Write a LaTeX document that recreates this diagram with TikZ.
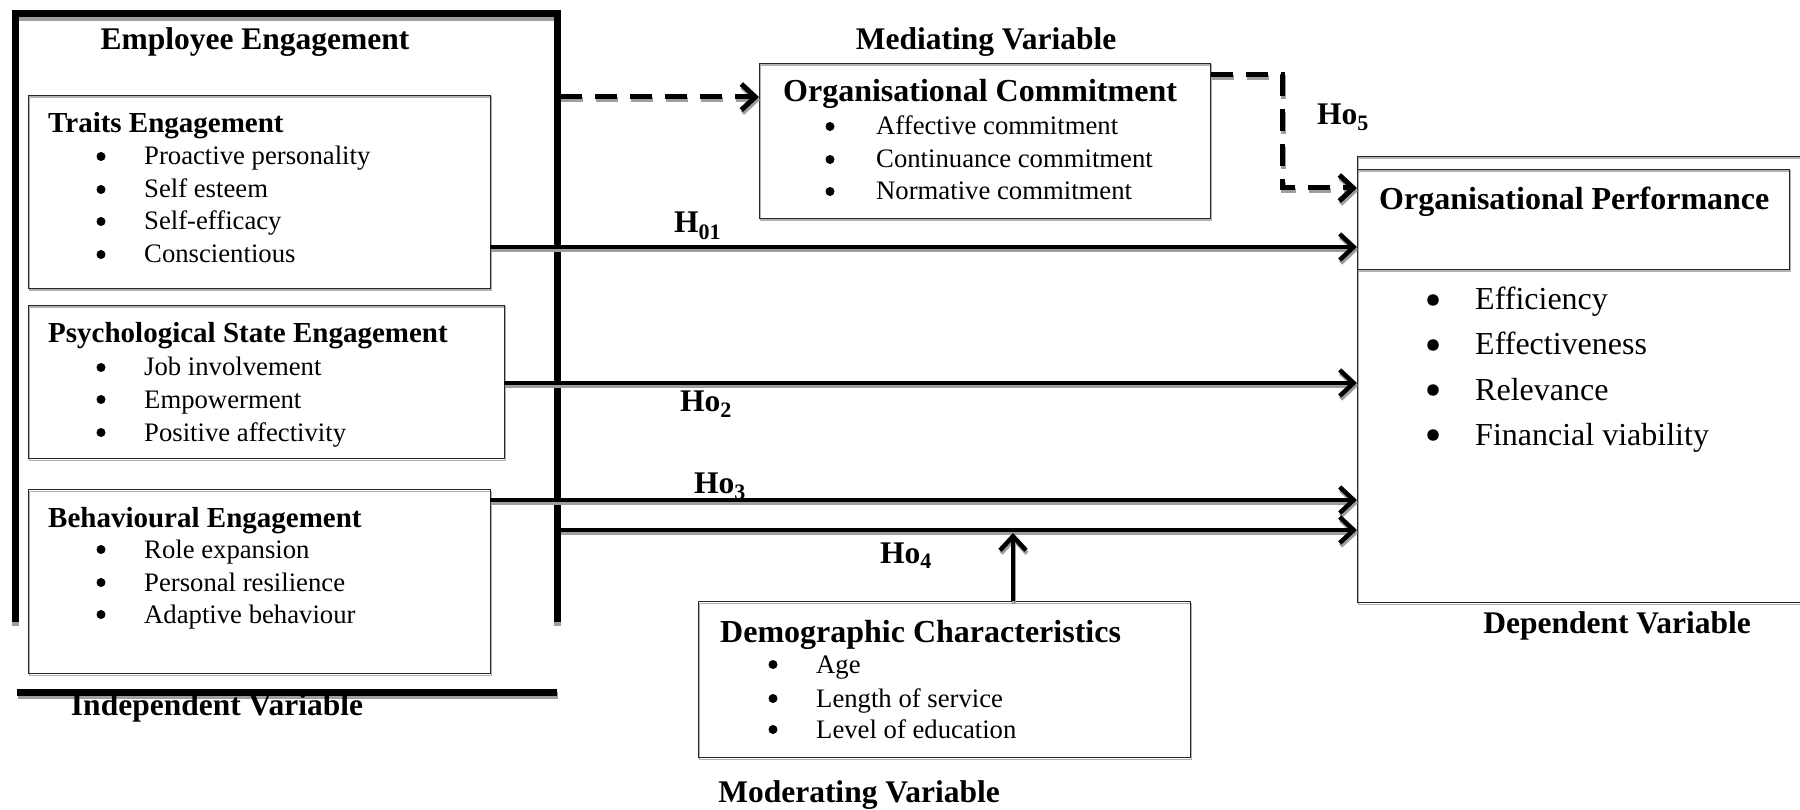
\documentclass[tikz,border=0pt]{standalone}
\usepackage{fontspec}
\setmainfont{Liberation Serif}
\usetikzlibrary{arrows.meta}
\newcommand\varfnt{\fontsize{31.5}{36}\selectfont\bfseries}
\newcommand\lhfnt{\fontsize{29}{34}\selectfont\bfseries}
\newcommand\hdfnt{\fontsize{32}{36}\selectfont\bfseries}
\newcommand\itemfnt{\fontsize{26.7}{32}\selectfont}
\newcommand\perffnt{\fontsize{32}{36}\selectfont}
\tikzset{
  tipA/.tip={Straight Barb[length=14pt,width=26pt]},
  boxshad/.style={preaction={draw=black!30,line width=1.3pt,transform canvas={shift={(1pt,-1.5pt)}}}},
  box/.style={draw=black!85,line width=1.3pt,inner sep=0,anchor=north west,boxshad},
  bracket/.style={line width=7pt,preaction={draw=black!38,line width=7pt,transform canvas={shift={(0.5pt,-3.5pt)}}}},
  arr/.style={line width=4.5pt,-tipA,preaction={draw=black!38,line width=4.5pt,-tipA,transform canvas={shift={(1pt,-3pt)}}}},
  darr/.style={line width=5pt,dash pattern=on 22pt off 13pt,-tipA,
     preaction={draw=black!38,line width=5pt,dash pattern=on 22pt off 13pt,-tipA,transform canvas={shift={(1pt,-3pt)}}}},
  lbl/.style={anchor=base,inner sep=0,font=\varfnt},
  hd/.style={anchor=base west,inner sep=0},
  bul/.style={circle,fill=black,inner sep=0,minimum size=9pt},
  bigbul/.style={circle,fill=black,inner sep=0,minimum size=11.5pt},
  itm/.style={anchor=base west,inner sep=0,font=\itemfnt},
  hlab/.style={anchor=base west,inner sep=0,font=\varfnt},
}
\begin{document}
\begin{tikzpicture}[x=1pt,y=-1pt]
\useasboundingbox (0,0) rectangle (1800,810);
% independent variable bracket
\draw[bracket] (15,622) -- (15,14) -- (557,14) -- (557,622);
\draw[bracket] (17,692) -- (557,692);
\node[lbl] (ee) at (255,50) {Employee Engagement};
\node[lbl] (iv) at (217,715) {Independent Variable};
% boxes
\node[box,minimum width=462,minimum height=193] (traits) at (28,95) {};
\node[box,minimum width=476,minimum height=153] (psych) at (28,305) {};
\node[box,minimum width=462,minimum height=184] (behav) at (28,489) {};
\node[box,minimum width=451,minimum height=155] (comm) at (759,63) {};
\node[box,minimum width=492,minimum height=156] (demo) at (698,601) {};
\node[box,minimum width=470,minimum height=446] (perf) at (1357,156) {};
\node[box,minimum width=432,minimum height=100] (perfhd) at (1357,169) {};
% headings
\node[hd,font=\lhfnt] (th) at (48,133) {Traits Engagement};
\node[hd,font=\lhfnt] (ph) at (48,343) {Psychological State Engagement};
\node[hd,font=\lhfnt] (bh) at (48,527) {Behavioural Engagement};
\node[hd,font=\hdfnt] (ch) at (783,102) {Organisational Commitment};
\node[hd,font=\hdfnt] (oh) at (1379,210) {Organisational Performance};
\node[hd,font=\hdfnt] (dh) at (720,642) {Demographic Characteristics};
% items
\foreach \t/\y [count=\i] in {Proactive personality/165,Self esteem/198,Self-efficacy/230,Conscientious/263}{
  \node[bul] (tb\i) at (101,\y-8.5) {};
  \node[itm] (ti\i) at (144,\y) {\t};}
\foreach \t/\y [count=\i] in {Job involvement/376,Empowerment/408,Positive affectivity/441}{
  \node[bul] (pb\i) at (101,\y-8.5) {};
  \node[itm] (pi\i) at (144,\y) {\t};}
\foreach \t/\y [count=\i] in {Role expansion/558,Personal resilience/591,Adaptive behaviour/623}{
  \node[bul] (bb\i) at (101,\y-8.5) {};
  \node[itm] (bi\i) at (144,\y) {\t};}
\foreach \t/\y [count=\i] in {Affective commitment/135,Continuance commitment/168,Normative commitment/200}{
  \node[bul] (cb\i) at (830,\y-8.5) {};
  \node[itm] (ci\i) at (876,\y) {\t};}
\foreach \t/\y [count=\i] in {Age/673,Length of service/707,Level of education/738}{
  \node[bul] (db\i) at (773,\y-8.5) {};
  \node[itm] (di\i) at (816,\y) {\t};}
\foreach \t/\y [count=\i] in {Efficiency/310,Effectiveness/355,Relevance/400,Financial viability/445}{
  \node[bigbul] (ob\i) at (1433,\y-10) {};
  \node[itm,font=\perffnt] (oi\i) at (1475,\y) {\t};}
% variable labels
\node[lbl] (mv) at (986,50) {Mediating Variable};
\node[lbl] (modv) at (859,802) {Moderating Variable};
\node[lbl] (dv) at (1617,633) {Dependent Variable};
% connectors
\coordinate (s1) at (490,247);
\coordinate (s2) at (504,383);
\coordinate (s3) at (490,500);
\coordinate (s4) at (560,530);
\coordinate (sm) at (560,97);
\coordinate (c5a) at (1282,75);
\coordinate (c5b) at (1282,188);
\coordinate (up) at (1013,533);
\draw[arr] (s1) -- (s1 -| perf.west);
\draw[arr] (s2) -- (s2 -| perf.west);
\draw[arr] (s3) -- (s3 -| perf.west);
\draw[arr] (s4) -- (s4 -| perf.west);
\draw[arr] (up |- demo.north) -- (up);
\draw[darr] (sm) -- (sm -| comm.west);
\draw[darr] (c5a -| comm.east) -- (c5a) -- (c5b) -- (c5b -| perf.west);
% hypothesis labels
\node[hlab] (h1) at (674,233) {H\textsubscript{01}};
\node[hlab] (h2) at (680,411) {Ho\textsubscript{2}};
\node[hlab] (h3) at (694,493) {Ho\textsubscript{3}};
\node[hlab] (h4) at (880,563) {Ho\textsubscript{4}};
\node[hlab] (h5) at (1317,125) {Ho\textsubscript{5}};
\end{tikzpicture}
\end{document}
